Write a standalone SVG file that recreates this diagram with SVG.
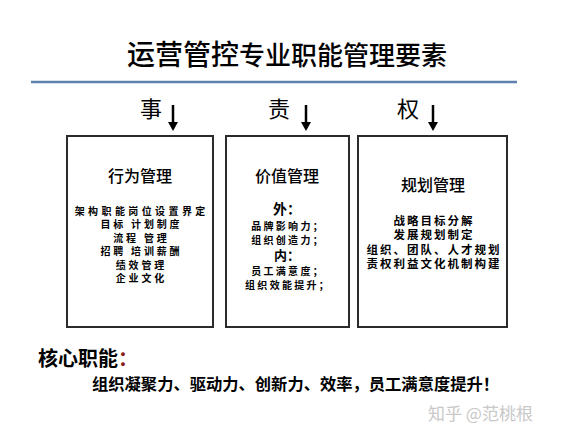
<svg xmlns="http://www.w3.org/2000/svg" width="582" height="438" viewBox="0 0 582 438">
<defs>
<style>
.cjk{font-family:"Noto Sans CJK SC","Noto Sans",sans-serif;fill:#000;}
.box{fill:#fff;stroke:#2b2b2b;stroke-width:2;}
.head{font-size:16px;text-anchor:middle;font-weight:500;}
.item{font-size:10px;text-anchor:middle;font-weight:700;letter-spacing:2.8px;}
.item2{font-size:10px;text-anchor:middle;font-weight:700;letter-spacing:2.3px;}
.item3{font-size:11.5px;text-anchor:middle;font-weight:700;letter-spacing:2px;}
.arrow{stroke:#000;stroke-width:2.5;fill:none;}
.ah{fill:#000;}
</style>
</defs>
<rect width="582" height="438" fill="#fff"/>
<g id="title">
<text class="cjk" x="127" y="65" font-weight="500"><tspan font-size="28">运营管控</tspan><tspan font-size="26">专业职能管理要素</tspan></text>
<line x1="31" y1="82" x2="517" y2="82" stroke="#5f81ad" stroke-width="2.5"/>
</g>
<g id="labels">
<text class="cjk" x="140" y="117" font-size="22">事</text>
<text class="cjk" x="268" y="117" font-size="22">责</text>
<text class="cjk" x="397" y="117" font-size="22">权</text>
</g>
<g id="connectors">
<line class="arrow" x1="173" y1="105" x2="173" y2="124"/>
<path class="ah" d="M168,122 L178,122 L173,131 Z"/>
<line class="arrow" x1="306" y1="105" x2="306" y2="124"/>
<path class="ah" d="M301,122 L311,122 L306,131 Z"/>
<line class="arrow" x1="433" y1="105" x2="433" y2="124"/>
<path class="ah" d="M428,122 L438,122 L433,131 Z"/>
</g>
<g id="node-behavior">
<rect class="box" x="67" y="136" width="146" height="191"/>
<text class="cjk head" x="140" y="182">行为管理</text>
<text class="cjk item"><tspan x="141.7" y="215" letter-spacing="3.4">架构职能岗位设置界定</tspan><tspan x="141.4" y="228.4">目标 计划制度</tspan><tspan x="141.4" y="241.8">流程 管理</tspan><tspan x="141.4" y="255.2">招聘 培训薪酬</tspan><tspan x="141.4" y="268.6">绩效管理</tspan><tspan x="141.4" y="282">企业文化</tspan></text>
</g>
<g id="node-value">
<rect class="box" x="226" y="136" width="123" height="191"/>
<text class="cjk head" x="287" y="182">价值管理</text>
<text class="cjk item2"><tspan x="287" y="214" font-size="14" letter-spacing="0">外：</tspan><tspan x="288.1" y="230">品牌影响力；</tspan><tspan x="288.1" y="243.5">组织创造力；</tspan><tspan x="287" y="260" font-size="13" letter-spacing="0">内：</tspan><tspan x="288.1" y="275">员工满意度；</tspan><tspan x="288.1" y="289">组织效能提升；</tspan></text>
</g>
<g id="node-plan">
<rect class="box" x="358" y="136" width="149" height="191"/>
<text class="cjk head" x="433" y="191">规划管理</text>
<text class="cjk item3"><tspan x="434" y="225">战略目标分解</tspan><tspan x="434" y="239">发展规划制定</tspan><tspan x="434" y="253.5">组织、团队、人才规划</tspan><tspan x="434" y="268">责权利益文化机制构建</tspan></text>
</g>
<g id="core">
<text class="cjk" x="38" y="366" font-size="20" font-weight="700">核心职能<tspan fill="#8b1a1a">：</tspan></text>
<text class="cjk" x="92" y="390" font-size="16.3" font-weight="700">组织凝聚力、驱动力、创新力、效率，员工满意度提升！</text>
</g>
<text class="cjk" x="428" y="420" font-size="17" style="fill:#c8c8c8">知乎 @范桃根</text>
</svg>
